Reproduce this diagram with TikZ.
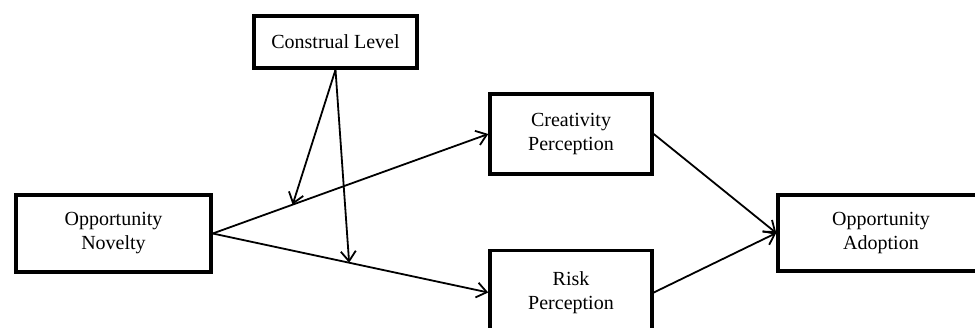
\documentclass[tikz,border=0pt]{standalone}
\usepackage{fontspec}
\setmainfont{Liberation Serif}
\usepackage{tikz}
\usetikzlibrary{positioning}
\usetikzlibrary{arrows.meta}
\tikzset{>={Straight Barb[length=10pt,width=15pt]}}

\begin{document}
\begin{tikzpicture}[x=1pt, y=-1pt, box/.style={rectangle, draw=black, line width=3.5pt, align=center, font=\fontsize{20pt}{24pt}\selectfont}, arrow/.style={->, line width=1.8pt}]

    \clip (0,0) rectangle (975,327);

    %Nodes
    \node[box, minimum width=195pt, minimum height=77pt](novelty) at (113.5,233.5){Opportunity\\Novelty};
    \node[box, minimum width=163pt, minimum height=52pt](construal) at (335.5,42){Construal Level};
    \node[box, minimum width=162pt, minimum height=80pt](creativity) at (571,134){Creativity\\Perception};
    \node[box, minimum width=162pt, minimum height=84pt](risk)[below=73pt of creativity]{Risk\\Perception};
    \node[box, minimum width=206pt, minimum height=76pt](adoption) at (881,233){Opportunity\\Adoption};

    %Points on the paths
    \path (novelty.east) -- (creativity.west) coordinate[pos=0.29](modup);
    \path (novelty.east) -- (risk.west) coordinate[pos=0.495](moddown);

    %Lines
    \draw[arrow] (novelty.east) -- (creativity.west);
    \draw[arrow] (novelty.east) -- (risk.west);
    \draw[arrow] (construal.south) -- (modup);
    \draw[arrow] (construal.south) -- (moddown);
    \draw[arrow] (creativity.east) -- (adoption.west);
    \draw[arrow] (risk.east) -- (adoption.west);

\end{tikzpicture}
\end{document}
